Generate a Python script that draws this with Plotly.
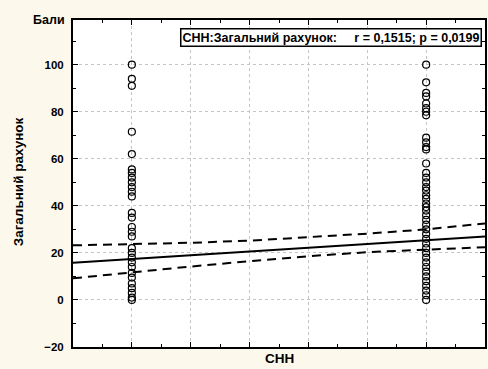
import plotly.graph_objects as go

# Data
left_x = 0
left_vals = [100, 94, 91, 71.5, 62, 55.5, 54, 52, 50, 48, 46, 44, 37, 35, 31, 29, 27,
             22, 20, 18, 16, 14, 11.5, 9.5, 7, 5, 3, 1, 0]
right_x = 1
right_vals = [100, 92.5, 88, 86.5, 83.5, 81.5, 80, 78.5, 69, 67, 65, 64, 58, 54, 52, 50,
              48, 46.5, 44.5, 43, 41, 39.5, 38, 36, 34, 32, 30, 28, 26, 24, 22, 20, 18,
              16, 14, 12, 10, 8, 6, 4, 2, 0]

fit_x = [-0.2, 0, 0.2, 0.4, 0.6, 0.8, 1.0, 1.2]
fit_line = [15.8, 17.4, 19.0, 20.6, 22.2, 23.8, 25.4, 27.0]
fit_upper = [23.2, 23.6, 24.3, 25.2, 26.6, 28.2, 30.0, 32.5]
fit_lower = [9.2, 11.8, 14.2, 16.5, 18.6, 20.3, 21.5, 22.4]

title_text = "СНН:Загальний рахунок:\u00a0\u00a0\u00a0\u00a0\u00a0r = 0,1515; p = 0,0199"
x_title = "СНН"
y_title = "Загальний рахунок"
y_unit = "Бали"

FONT = "Liberation Sans, Arial, sans-serif"
BG = "#FDF8EC"

fig = go.Figure()
pts_x = [left_x] * len(left_vals) + [right_x] * len(right_vals)
pts_y = left_vals + right_vals
fig.add_trace(go.Scatter(x=pts_x, y=pts_y, mode="markers",
                         marker=dict(symbol="circle-open", size=7, color="black",
                                     line=dict(width=1.2, color="black")),
                         showlegend=False, cliponaxis=True))
fig.add_trace(go.Scatter(x=fit_x, y=fit_line, mode="lines",
                         line=dict(color="black", width=2), showlegend=False))
for band in (fit_upper, fit_lower):
    fig.add_trace(go.Scatter(x=fit_x, y=band, mode="lines",
                             line=dict(color="black", width=2, dash="9px,6px"),
                             showlegend=False))

axis_common = dict(showline=True, linecolor="black", linewidth=2, mirror="ticks",
                   ticks="inside", tickcolor="black", tickwidth=1, ticklen=5,
                   showgrid=True, gridcolor="#c4c4c4", griddash="dot", gridwidth=1,
                   zeroline=False)

fig.update_xaxes(range=[-0.2, 1.2], tickvals=[-0.2, 0, 0.2, 0.4, 0.6, 0.8, 1.0, 1.2],
                 showticklabels=False,
                 minor=dict(ticks="inside", dtick=0.1, tick0=0, ticklen=3,
                            tickcolor="black", showgrid=False),
                 **axis_common)
fig.update_yaxes(range=[-20, 119], tickvals=[-20, 0, 20, 40, 60, 80, 100],
                 tickfont=dict(family=FONT, size=11.5, color="black", weight="bold"),
                 ticklabelstandoff=5,
                 minor=dict(ticks="inside", dtick=10, tick0=0, ticklen=3,
                            tickcolor="black", showgrid=False),
                 **axis_common)

L, R, T, B = 73, 1, 20, 22
W, H = 488, 369
pw, ph = W - L - R, H - T - B

def px(xp):
    return (xp - L) / pw

def py(yp):
    return (H - B - yp) / ph

fig.add_annotation(text=title_text, xref="paper", yref="paper", x=px(181), y=py(37.5),
                   xanchor="left", yanchor="middle", showarrow=False,
                   font=dict(family=FONT, size=12.5, color="black", weight="bold"),
                   bgcolor="white", bordercolor="black", borderwidth=1.5, borderpad=1)
fig.add_annotation(text=y_unit, xref="paper", yref="paper", x=px(67), y=py(20),
                   xanchor="right", yanchor="middle", showarrow=False,
                   font=dict(family=FONT, size=12.5, color="black", weight="bold"))
fig.add_annotation(text=y_title, xref="paper", yref="paper", x=px(18), y=py(182),
                   xanchor="center", yanchor="middle", showarrow=False, textangle=-90,
                   font=dict(family=FONT, size=13.5, color="black", weight="bold"))
fig.add_annotation(text=x_title, xref="paper", yref="paper", x=px(280), y=py(358),
                   xanchor="center", yanchor="middle", showarrow=False,
                   font=dict(family=FONT, size=13.5, color="black", weight="bold"))

fig.update_layout(width=W, height=H, margin=dict(l=L, r=R, t=T, b=B),
                  paper_bgcolor=BG, plot_bgcolor="white", showlegend=False)

fig.write_html("out.html", config={"displayModeBar": False, "responsive": False},
               default_width="488px", default_height="369px",
               post_script="document.body.style.margin='0';document.body.style.overflow='hidden';")
